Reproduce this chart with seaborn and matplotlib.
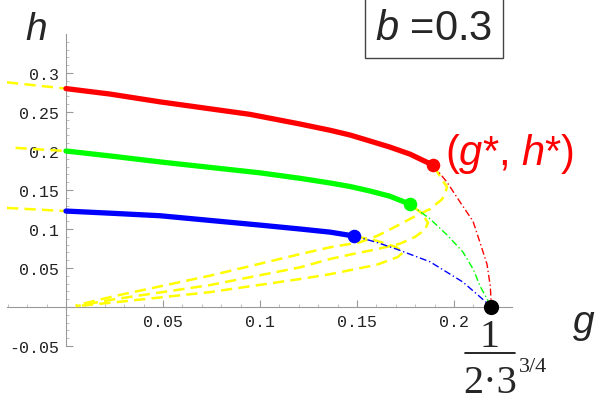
import matplotlib
matplotlib.use("Agg")
import matplotlib.pyplot as plt
from matplotlib.lines import Line2D
import seaborn as sns
import pandas as pd

# upper (solid) branches
red_g = [0.0, 0.0227, 0.0485, 0.0948, 0.1206, 0.1361, 0.1464, 0.1567, 0.167, 0.1773, 0.184, 0.1892]
red_h = [0.280, 0.273, 0.263, 0.247, 0.2346, 0.2266, 0.2205, 0.2128, 0.205, 0.196, 0.188, 0.182]
green_g = [0.0, 0.025, 0.0485, 0.1, 0.1206, 0.1361, 0.1464, 0.1567, 0.167, 0.172, 0.1773]
green_h = [0.200, 0.193, 0.186, 0.172, 0.165, 0.159, 0.1545, 0.1487, 0.142, 0.137, 0.132]
blue_g = [0.0, 0.025, 0.0485, 0.1, 0.1206, 0.1361, 0.1485]
blue_h = [0.123, 0.120, 0.117, 0.105, 0.100, 0.096, 0.091]

# yellow dashed: extension to negative g and lower branch back to origin
red_ext_g = [-0.0304, 0.0]
red_ext_h = [0.288, 0.280]
green_ext_g = [-0.026, 0.0]
green_ext_h = [0.204, 0.200]
blue_ext_g = [-0.0304, 0.0]
blue_ext_h = [0.127, 0.123]

red_low_g = [0.1892, 0.1943, 0.1964, 0.1955, 0.1938, 0.1876, 0.1789, 0.1706, 0.1603, 0.1515, 0.136, 0.121, 0.074, 0.025, 0.005]
red_low_h = [0.182, 0.1615, 0.154, 0.146, 0.138, 0.1256, 0.115, 0.104, 0.091, 0.083, 0.0765, 0.068, 0.040, 0.014, 0.002]
green_low_g = [0.1773, 0.1835, 0.1866, 0.185, 0.180, 0.172, 0.160, 0.148, 0.136, 0.121, 0.074, 0.025, 0.005]
green_low_h = [0.132, 0.120, 0.108, 0.099, 0.090, 0.081, 0.074, 0.068, 0.0615, 0.051, 0.028, 0.010, 0.001]
blue_low_g = [0.1485, 0.160, 0.170, 0.174, 0.171, 0.160, 0.136, 0.121, 0.074, 0.025, 0.005]
blue_low_h = [0.091, 0.085, 0.077, 0.0705, 0.064, 0.054, 0.042, 0.036, 0.019, 0.006, 0.001]

# dash-dot branches to the end point
g_end = 0.2193
red_dd_g = [0.1892, 0.1964, 0.203, 0.2098, 0.2135, 0.217, 0.2187, g_end]
red_dd_h = [0.182, 0.160, 0.135, 0.110, 0.082, 0.055, 0.027, 0.0]
green_dd_g = [0.1773, 0.1876, 0.1966, 0.2046, 0.2100, 0.2134, g_end]
green_dd_h = [0.132, 0.113, 0.092, 0.0705, 0.048, 0.027, 0.0]
blue_dd_g = [0.1485, 0.1600, 0.1706, 0.1876, 0.2046, 0.2134, g_end]
blue_dd_h = [0.091, 0.083, 0.074, 0.058, 0.032, 0.013, 0.0]

xticks = [0.05, 0.1, 0.15, 0.2]
xlabels = ["0.05", "0.1", "0.15", "0.2"]
yticks = [-0.05, 0.05, 0.1, 0.15, 0.2, 0.25, 0.3]
ylabels = ["-0.05", "0.05", "0.1", "0.15", "0.2", "0.25", "0.3"]

sns.set_style("white")
plt.rcParams["font.family"] = ["Liberation Sans", "DejaVu Sans"]
plt.rcParams["mathtext.fontset"] = "custom"
plt.rcParams["mathtext.rm"] = "Liberation Sans"
plt.rcParams["mathtext.it"] = "Liberation Sans:italic"

fig = plt.figure(figsize=(5.99, 4.02), dpi=100)
ax = fig.add_axes([7 / 599, 55 / 402, 505 / 599, 312 / 402])

curves = [
    (red_g, red_h, red_ext_g, red_ext_h, red_low_g, red_low_h, red_dd_g, red_dd_h, "#ff0000"),
    (green_g, green_h, green_ext_g, green_ext_h, green_low_g, green_low_h, green_dd_g, green_dd_h, "#00ff00"),
    (blue_g, blue_h, blue_ext_g, blue_ext_h, blue_low_g, blue_low_h, blue_dd_g, blue_dd_h, "#0000ff"),
]

for g, h, eg, eh, lg, lh, dg, dh, col in curves:
    # yellow loop: extension + upper branch + fold back to origin
    yg = eg + g[1:] + lg[1:]
    yh = eh + h[1:] + lh[1:]
    df = pd.DataFrame({"g": yg, "h": yh})
    sns.lineplot(data=df, x="g", y="h", sort=False, estimator=None, color="#ffff00",
                 lw=1.8, linestyle=(0, (4.5, 2.5)), ax=ax, zorder=2)
    sns.lineplot(x=dg, y=dh, sort=False, estimator=None, color=col, lw=1.0,
                 linestyle=(0, (5, 2, 1, 2)), ax=ax, zorder=3)
    sns.lineplot(x=g, y=h, sort=False, estimator=None, color=col, lw=3.8,
                 solid_capstyle="round", solid_joinstyle="round", ax=ax, zorder=4)
    ax.scatter([g[-1]], [h[-1]], s=95, color=col, zorder=5, linewidths=0)

ax.scatter([g_end], [0.0], s=120, color="black", zorder=6, linewidths=0, clip_on=False)

ax.set_xlim(-0.0304, 0.2299)
ax.set_ylim(-0.05, 0.35)
ax.spines["left"].set_position(("data", 0))
ax.spines["bottom"].set_position(("data", 0))
ax.spines["top"].set_visible(False)
ax.spines["right"].set_visible(False)
for s in ["left", "bottom"]:
    ax.spines[s].set_color("#9a9a9a")
    ax.spines[s].set_linewidth(0.8)
    ax.spines[s].set_zorder(1)

ax.set_xticks(xticks, labels=xlabels)
ax.set_yticks(yticks, labels=ylabels)
ax.set_xticks([i / 100 for i in range(-3, 23)], minor=True)
ax.set_yticks([i / 100 for i in range(-5, 35)], minor=True)
ax.tick_params(which="both", bottom=True, left=True, top=False, right=False)
ax.tick_params(which="major", direction="in", length=5, width=0.8, color="#9a9a9a",
               labelsize=12, labelcolor="#222222", pad=5)
ax.tick_params(which="minor", direction="in", length=2.5, width=0.6, color="#b4b4b4")
for lab in ax.get_xticklabels() + ax.get_yticklabels():
    lab.set_fontfamily("Liberation Mono")
ax.set_xlabel("")
ax.set_ylabel("")
ax.grid(False)

def fx(px):
    return px / 599

def fy(py):
    return 1 - py / 402

fig.text(fx(25), fy(40), "h", fontsize=28, style="italic", ha="left", va="baseline")
fig.text(fx(573), fy(333), "g", fontsize=28, style="italic", ha="left", va="baseline")
fig.text(fx(434), fy(29), r"$b$ =0.3", fontsize=30, ha="center", va="center",
         math_fontfamily="custom",
         bbox=dict(boxstyle="square,pad=0.25", fc="white", ec="#444444", lw=1.0))
fig.text(fx(445), fy(165), r"($g$*, $h$*)", fontsize=30, color="#ff0000",
         ha="left", va="baseline", math_fontfamily="custom")

# fraction 1 / (2*3^(3/4)) under the end point
fig.text(fx(490), fy(347), "1", fontsize=29, family="Liberation Serif",
         ha="center", va="baseline")
fig.add_artist(Line2D([fx(465), fx(515)], [fy(354), fy(354)], color="black", lw=1.2))
fig.text(fx(463), fy(393), "2\u00b73", fontsize=29, family="Liberation Serif",
         ha="left", va="baseline")
fig.text(fx(519), fy(372), "3/4", fontsize=16, family="Liberation Serif",
         ha="left", va="baseline")

fig.savefig("out.png", dpi=100)
